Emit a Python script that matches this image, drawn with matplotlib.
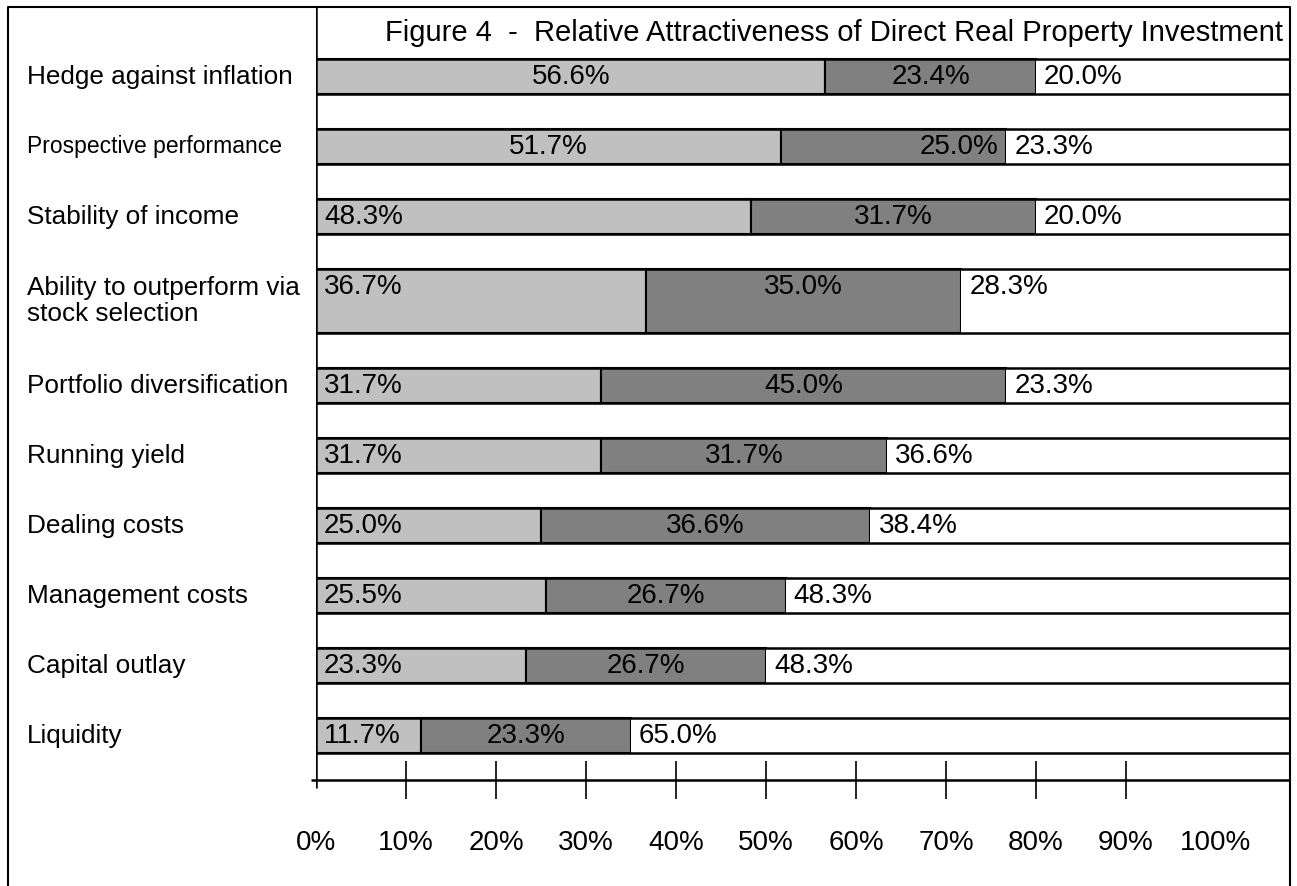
import matplotlib.pyplot as plt

plt.rcParams['font.family'] = ['Liberation Sans', 'DejaVu Sans']

# data
categories = ["Hedge against inflation", "Prospective performance", "Stability of income",
              "Ability to outperform via\nstock selection", "Portfolio diversification",
              "Running yield", "Dealing costs", "Management costs", "Capital outlay", "Liquidity"]
share_a = [56.6, 51.7, 48.3, 36.7, 31.7, 31.7, 25.0, 25.5, 23.3, 11.7]
share_b = [23.4, 25.0, 31.7, 35.0, 45.0, 31.7, 36.6, 26.7, 26.7, 23.3]
share_c = [20.0, 23.3, 20.0, 28.3, 23.3, 36.6, 38.4, 48.3, 48.3, 65.0]
tick_vals = [0, 10, 20, 30, 40, 50, 60, 70, 80, 90, 100]
title = "Figure 4  -  Relative Attractiveness of Direct Real Property Investment"

W, H = 1297, 886
X0, X1 = 316, 1290          # table area in pixels
PX = 9.0                    # pixels per percent
XMAX = (X1 - X0) / PX
FS = 20

fig = plt.figure(figsize=(W / 100, H / 100), dpi=100)
bg = fig.add_axes([0, 0, 1, 1])
bg.set_xlim(0, W)
bg.set_ylim(H, 0)
bg.axis('off')
ax = fig.add_axes([X0 / W, 0, (X1 - X0) / W, 1])
ax.set_xlim(0, XMAX)
ax.set_ylim(H, 0)
ax.axis('off')

# outer frame (open at the bottom)
bg.plot([8, 8, X1, X1], [H, 7, 7, H], color='black', lw=1.5, clip_on=False)

# row layout
tops, heights = [], []
y = 59
for c in categories:
    h = 64 if '\n' in c else 35
    tops.append(y)
    heights.append(h)
    y += h + 35
centers = [t + h / 2 for t, h in zip(tops, heights)]

left_b = [a for a in share_a]
left_c = [a + b for a, b in zip(share_a, share_b)]
ax.barh(centers, share_a, height=heights, left=0, color='#c0c0c0', edgecolor='black', lw=1.5)
ax.barh(centers, share_b, height=heights, left=left_b, color='#808080', edgecolor='black', lw=1.5)
ax.barh(centers, share_c, height=heights, left=left_c, color='white', lw=0)

for t, h in zip(tops, heights):
    ax.hlines([t, t + h], 0, XMAX, color='black', lw=1.8)
ax.vlines(0, 7, 788, color='black', lw=1.8)

# axis
ax.hlines(780, -5 / PX, XMAX, color='black', lw=1.8, clip_on=False)
ax.vlines(tick_vals[1:-1], 761, 799, color='black', lw=1.2)
for v in tick_vals:
    ax.text(v, 843, f"{v}%", ha='center', va='center', fontsize=FS)

# value labels
pad = 8 / PX
for i, (t, a, b, c) in enumerate(zip(tops, share_a, share_b, share_c)):
    ty = t + 18
    if i < 2:
        ax.text(a / 2, ty, f"{a:.1f}%", ha='center', va='center', fontsize=FS)
    else:
        ax.text(pad, ty, f"{a:.1f}%", ha='left', va='center', fontsize=FS)
    if i == 1:
        ax.text(a + b - pad, ty, f"{b:.1f}%", ha='right', va='center', fontsize=FS)
    else:
        ax.text(a + b / 2, ty, f"{b:.1f}%", ha='center', va='center', fontsize=FS)
    ax.text(a + b + pad, ty, f"{c:.1f}%", ha='left', va='center', fontsize=FS)

# category labels
for c, yc in zip(categories, centers):
    fs = 16.5 if c.startswith("Prospective") else 18.8
    bg.text(27, yc, c, ha='left', va='center', fontsize=fs, linespacing=1.15)

bg.text(385, 33, title, ha='left', va='center', fontsize=21)

fig.savefig('out.png', dpi=100)
